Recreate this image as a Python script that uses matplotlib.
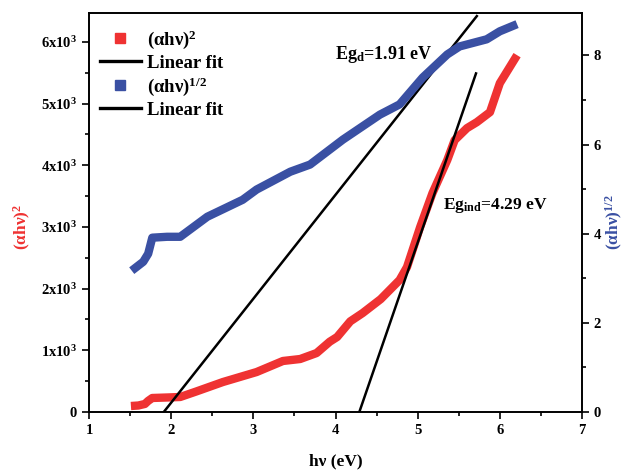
import matplotlib
matplotlib.use("Agg")
import matplotlib.pyplot as plt
from matplotlib.ticker import MultipleLocator, FixedLocator
from matplotlib.lines import Line2D

plt.rcParams['font.family'] = ['Liberation Serif', 'DejaVu Serif']
plt.rcParams['font.weight'] = 'bold'
plt.rcParams['mathtext.fontset'] = 'custom'
plt.rcParams['mathtext.rm'] = 'Liberation Serif:bold'
plt.rcParams['mathtext.bf'] = 'Liberation Serif:bold'
plt.rcParams['mathtext.it'] = 'Liberation Serif:bold'

# (alpha h nu)^2 data (left axis)
hv_sq = [1.51, 1.60, 1.68, 1.72, 1.77, 1.95, 2.11, 2.30, 2.63, 3.04, 3.36, 3.57, 3.77,
         3.93, 4.02, 4.18, 4.33, 4.55, 4.78, 4.87, 5.03, 5.18, 5.36, 5.45, 5.60,
         5.72, 5.88, 6.00, 6.21]
ahv_sq = [97, 105, 130, 180, 227, 235, 243, 330, 486, 648, 827, 859, 956,
          1140, 1216, 1470, 1604, 1830, 2140, 2350, 2998, 3549, 4084, 4408, 4603,
          4700, 4862, 5332, 5786]

# (alpha h nu)^1/2 data (right axis)
hv_half = [1.52, 1.66, 1.72, 1.77, 1.95, 2.11, 2.44, 2.87, 3.04, 3.45, 3.69, 4.09, 4.54,
           4.78, 5.06, 5.36, 5.51, 5.84, 6.00, 6.21]
ahv_half = [3.17, 3.37, 3.55, 3.91, 3.93, 3.93, 4.38, 4.76, 4.99, 5.39, 5.55, 6.11, 6.67,
            6.90, 7.50, 8.02, 8.20, 8.36, 8.54, 8.70]

# Linear fits (left-axis units)
fit_d_x = [1.91, 5.72]
fit_d_y = [0, 6420]
fit_ind_x = [4.29, 5.71]
fit_ind_y = [0, 5490]

red = '#EF3232'
blue = '#3A50A3'

fig = plt.figure(figsize=(6.3, 4.73), dpi=100)
ax = fig.add_axes([0.1413, 0.129, 0.7825, 0.8435])
ax2 = ax.twinx()

ax.plot(hv_sq, ahv_sq, color=red, lw=6, solid_joinstyle='round', solid_capstyle='butt', zorder=3)
ax.plot(fit_d_x, fit_d_y, color='black', lw=1.8, zorder=4)
ax.plot(fit_ind_x, fit_ind_y, color='black', lw=1.8, zorder=4)
ax2.plot(hv_half, ahv_half, color=blue, lw=6, solid_joinstyle='round', solid_capstyle='butt', zorder=3)

ax.set_xlim(1, 7)
ax.set_ylim(0, 6470)
ax2.set_ylim(0, 8.95)

ax.xaxis.set_major_locator(MultipleLocator(1))
ax.xaxis.set_minor_locator(MultipleLocator(0.5))
ax.yaxis.set_major_locator(FixedLocator([0, 1000, 2000, 3000, 4000, 5000, 6000]))
ax.yaxis.set_minor_locator(MultipleLocator(500))
ax.set_yticklabels(['0'] + ['%dx10$^{3}$' % i for i in range(1, 7)])
ax2.yaxis.set_major_locator(MultipleLocator(2))
ax2.yaxis.set_minor_locator(MultipleLocator(1))

for a in (ax, ax2):
    a.tick_params(which='major', direction='out', length=5, width=1.2, labelsize=10.5)
    a.tick_params(which='minor', direction='out', length=3, width=1.2)
    for s in a.spines.values():
        s.set_linewidth(1.2)
ax.tick_params(axis='x', top=False)

ax.set_xlabel('h\u03bd (eV)', fontsize=12.5, fontweight='bold', labelpad=12)
ax.set_ylabel('(\u03b1h\u03bd)$^{2}$', fontsize=12.5, fontweight='bold', color=red, labelpad=6)
ax2.set_ylabel('(\u03b1h\u03bd)$^{1/2}$', fontsize=12.5, fontweight='bold', color=blue, labelpad=2)
ax.yaxis.label.set_y(0.464)
ax2.yaxis.label.set_y(0.476)

ax.text(3.99, 5790, 'Eg$_{\\mathrm{d}}$=1.91 eV', fontsize=13, fontweight='bold', va='center', zorder=5)
ax.text(5.31, 3350, 'Eg$_{\\mathrm{ind}}$=4.29 eV', fontsize=12.5, fontweight='bold', va='center', zorder=5)

handles = [
    Line2D([], [], color=red, marker='s', ls='none', ms=7),
    Line2D([], [], color='black', lw=2.4),
    Line2D([], [], color=blue, marker='s', ls='none', ms=7),
    Line2D([], [], color='black', lw=2.4),
]
labels = ['(\u03b1h\u03bd)$^{2}$', 'Linear fit', '(\u03b1h\u03bd)$^{1/2}$', 'Linear fit']
leg = ax.legend(handles, labels, loc='upper left', frameon=False,
                prop={'family': 'Liberation Serif', 'weight': 'bold', 'size': 13.5},
                handlelength=2.2, labelspacing=0.2, bbox_to_anchor=(-0.005, 0.995),
                borderaxespad=0.3, handletextpad=0.3)

fig.savefig('out.png', dpi=100)
